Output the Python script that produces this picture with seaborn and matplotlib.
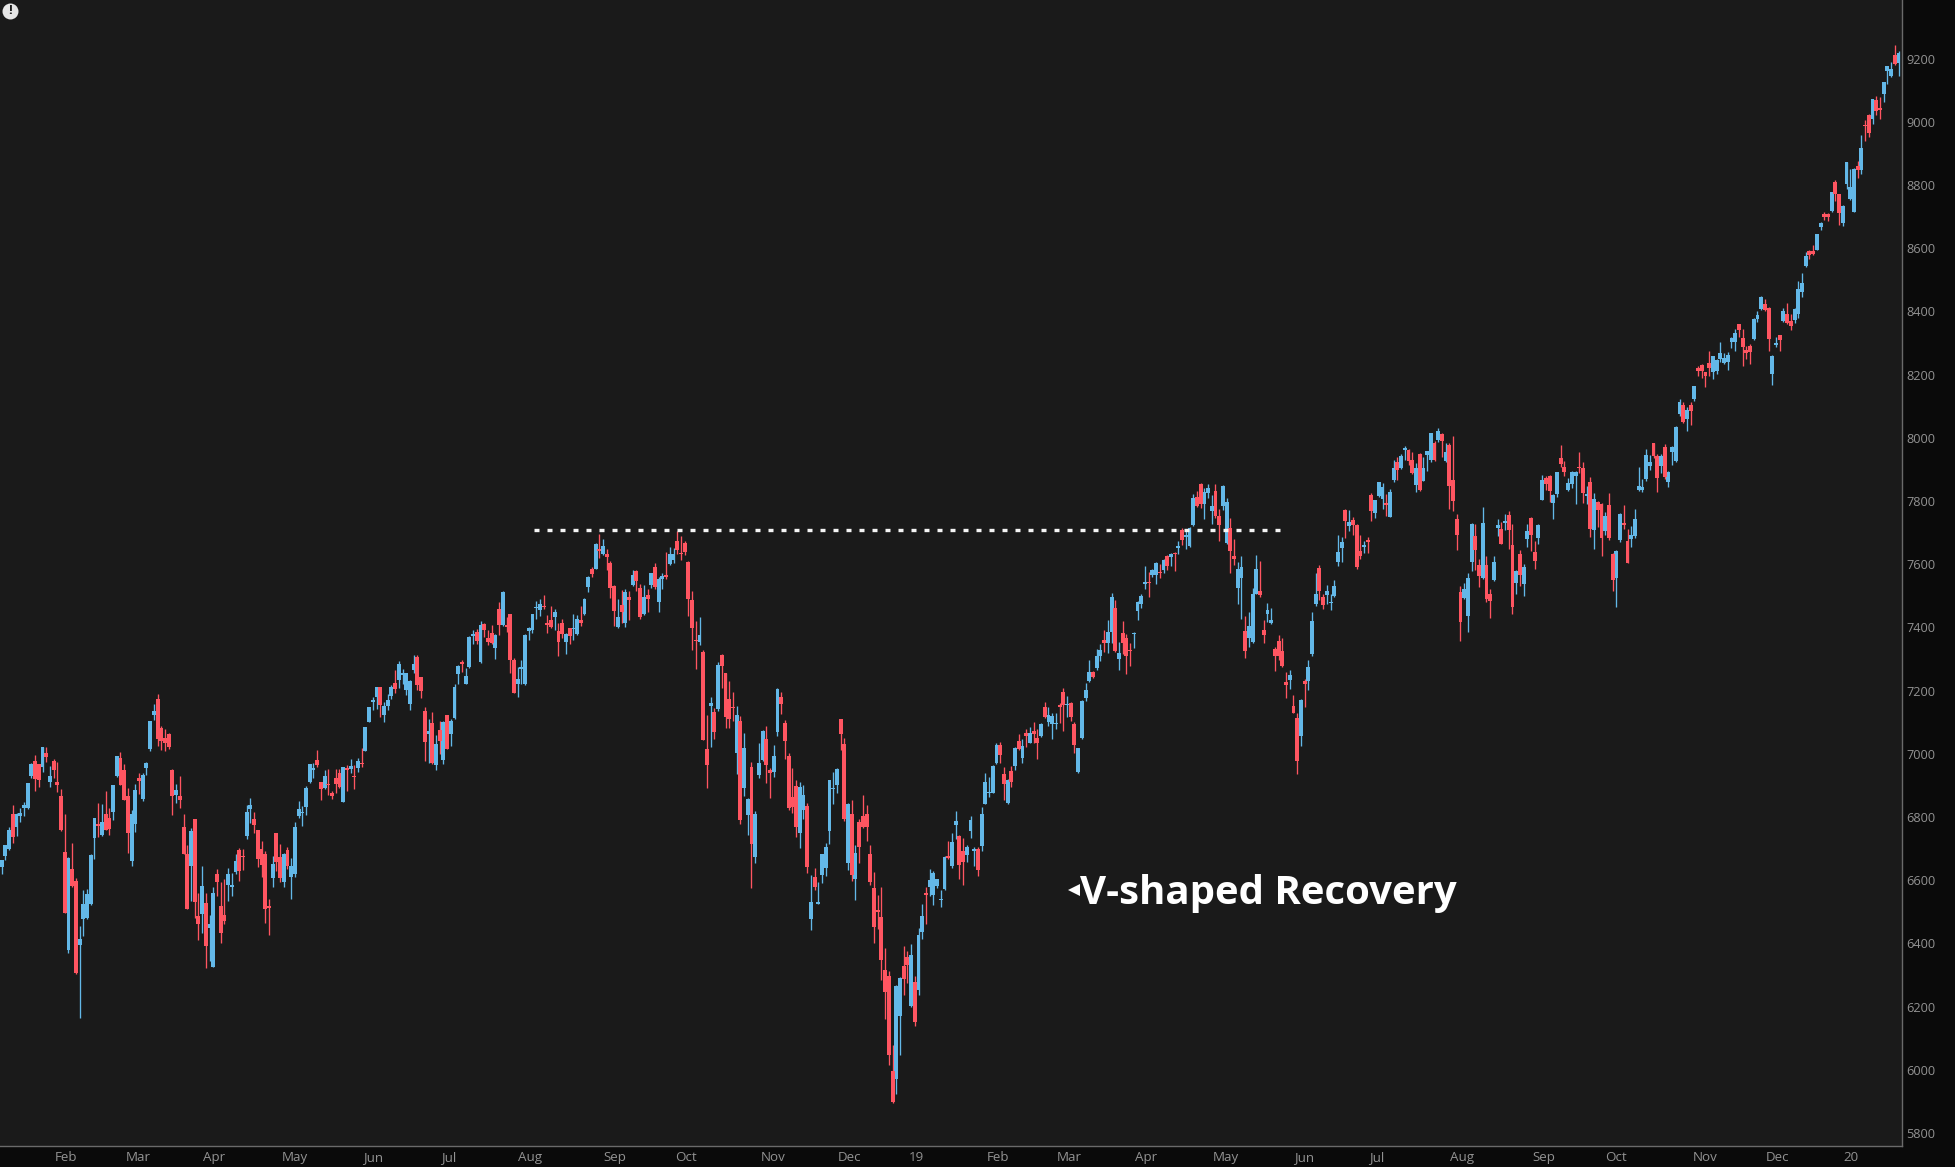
import matplotlib
matplotlib.use("Agg")
import matplotlib.pyplot as plt
import seaborn as sns
import pandas as pd
import numpy as np

# (open, high, low, close)
bars_a = [(6642,6665,6621,6665),(6676,6712,6663,6710),(6698,6767,6695,6760),(6809,6837,6718,6737),(6769,6813,6740,6811),
(6803,6827,6785,6814),(6829,6846,6804,6838),(6828,6909,6824,6909),(6929,6971,6925,6967),(6976,6995,6883,6921),
(6967,6969,6895,6918),(6959,7023,6943,7023),(7002,7023,6975,6989),(6910,6961,6895,6931),(6976,6985,6922,6948),
(6912,6975,6880,6902),(6868,6890,6755,6758),(6689,6811,6495,6497),(6378,6675,6370,6669),(6635,6719,6580,6581),
(6597,6608,6303,6307),(6394,6455,6164,6415),(6478,6568,6424,6526),(6482,6573,6478,6555),(6524,6684,6521,6679),
(6734,6798,6667,6796),(6779,6843,6737,6772),(6742,6841,6739,6784),(6811,6882,6758,6758),(6796,6827,6742,6761),
(6815,6901,6790,6901),(6931,6992,6927,6992),(6986,7005,6901,6901),(6948,6967,6853,6853),(6866,6893,6687,6750),
(6660,6822,6644,6811),(6778,6904,6753,6885),(6923,6938,6874,6914),(6856,6938,6851,6932),(6955,6974,6932,6972)]
bars_b = [(7015,7103,7009,7103),(7122,7159,7106,7135),(7175,7189,7024,7047),(7081,7087,7012,7041),(7051,7077,7009,7033),
(7062,7066,7014,7022),(6948,6951,6806,6867),(6870,6904,6843,6887),(6866,6931,6828,6854),(6768,6811,6682,6682),
(6684,6711,6509,6509),(6644,6766,6535,6755),(6793,6795,6481,6531),(6488,6561,6412,6461),(6492,6644,6433,6583),
(6529,6561,6323,6392),(6448,6489,6345,6461),(6326,6579,6326,6561),(6621,6635,6549,6594),(6517,6593,6402,6432),
(6491,6605,6463,6470),(6584,6640,6535,6619),(6578,6623,6549,6586),(6625,6684,6619,6660),(6697,6703,6598,6629),
(6678,6700,6632,6673),(6739,6837,6731,6817),(6826,6859,6780,6837),(6795,6817,6750,6774),(6758,6760,6642,6667),
(6700,6723,6611,6648),(6682,6692,6465,6509),(6517,6542,6426,6513),(6606,6676,6579,6651),(6751,6751,6628,6657),
(6672,6714,6593,6606),(6595,6687,6579,6684),(6697,6706,6637,6644),(6611,6669,6541,6646),(6619,6785,6611,6770)]
bars_c = [(6803,6850,6798,6824),(6813,6834,6772,6817),(6832,6898,6806,6893),(6910,6969,6907,6967),(6948,6972,6923,6954),
(6979,7012,6957,6964),(6912,6912,6853,6889),(6893,6948,6890,6931),(6906,6953,6869,6902),(6877,6881,6857,6866),
(6922,6951,6876,6904),(6938,6953,6893,6895),(6848,6959,6847,6957),(6954,6964,6883,6950),(6952,6985,6938,6963),
(6931,6964,6889,6927),(6956,6988,6943,6978),(6972,7017,6957,6968),(7009,7086,7009,7086),(7101,7149,7100,7147),
(7163,7180,7138,7169),(7180,7213,7142,7213),(7213,7213,7117,7154),(7123,7164,7101,7152),(7151,7188,7140,7170),
(7182,7217,7172,7212),(7223,7265,7193,7206),(7233,7293,7207,7284),(7248,7270,7220,7256),(7201,7256,7187,7256),
(7157,7233,7138,7230),(7265,7312,7256,7284),(7305,7312,7203,7217),(7242,7242,7177,7199),(7135,7147,6978,7037),
(7063,7110,6972,7071),(7099,7132,6969,6972),(6965,7058,6948,7032),(7075,7103,7001,7041),(6980,7103,6967,7101),
(7124,7124,7014,7015),(7062,7109,7024,7103),(7112,7220,7109,7210),(7252,7282,7220,7277),(7290,7298,7258,7284),
(7220,7273,7220,7246)]
bars_d = [(7276,7373,7272,7371),(7372,7392,7349,7379),(7385,7394,7349,7357),(7289,7420,7287,7408),(7410,7415,7371,7392),
(7365,7392,7344,7354),(7381,7408,7347,7352),(7335,7378,7300,7376),(7458,7479,7376,7408),(7408,7515,7404,7512),
(7408,7434,7384,7402),(7444,7444,7257,7297),(7297,7302,7191,7193),(7221,7275,7179,7237),(7269,7297,7222,7274),
(7222,7379,7219,7375),(7390,7400,7359,7398),(7393,7442,7383,7442),(7460,7483,7426,7465),(7456,7489,7437,7473),
(7469,7503,7459,7465),(7414,7440,7383,7409),(7424,7469,7399,7402),(7432,7459,7393,7450),(7389,7413,7311,7355),
(7413,7426,7366,7379),(7355,7382,7315,7379),(7397,7399,7348,7372),(7395,7444,7359,7399),(7379,7440,7375,7426),
(7422,7467,7405,7414),(7442,7494,7440,7489),(7527,7563,7512,7561),(7584,7590,7561,7569),(7585,7668,7584,7664),
(7647,7695,7620,7642),(7633,7679,7628,7658),(7632,7647,7581,7624),(7605,7611,7494,7524),(7531,7534,7405,7452),
(7402,7491,7399,7432),(7471,7518,7413,7449),(7413,7520,7402,7511),(7496,7514,7424,7488),(7534,7581,7530,7565),
(7578,7581,7516,7547),(7524,7538,7426,7434),(7442,7534,7440,7496),(7503,7520,7450,7491),(7534,7572,7524,7572),
(7590,7605,7523,7527),(7479,7558,7450,7553),(7554,7572,7520,7563),(7566,7639,7554,7561),(7601,7655,7597,7631),
(7612,7652,7604,7632),(7675,7706,7631,7644),(7633,7689,7612,7631),(7666,7672,7628,7639),(7608,7611,7437,7490)]
bars_e = [(7487,7514,7329,7399),(7360,7420,7270,7356),(7354,7433,7343,7375),(7321,7329,7045,7045),(7015,7124,6893,6966),
(7152,7181,7023,7160),(7133,7146,7047,7070),(7141,7292,7134,7281),(7313,7316,7207,7278),(7255,7255,7083,7117),
(7173,7231,7083,7109),(7146,7195,7103,7144),(7002,7150,6935,7124),(7103,7119,6778,6791),(6892,7066,6868,7019),
(6805,6860,6743,6857),(6958,6975,6576,6716),(6675,6819,6653,6811),(6932,7033,6924,6971),(6980,7075,6976,7072),
(7047,7087,6908,6966),(6950,6955,6861,6939),(6942,7028,6928,6993),(7068,7208,7056,7206),(7180,7195,7126,7158),
(7098,7106,6985,7041),(6993,7002,6821,6829),(6864,6955,6814,6832),(6899,6918,6737,6770),(6751,6911,6702,6895),
(6823,6902,6794,6871),(6834,6845,6623,6643),(6476,6616,6444,6530),(6610,6640,6568,6577),(6526,6595,6525,6530),
(6616,6682,6592,6682),(6639,6719,6612,6704),(6756,6918,6716,6918),(6889,6942,6840,6893),(6902,6955,6875,6953),
(7109,7109,7013,7063),(7031,7050,6787,6794),(6653,6845,6632,6841),(6809,6854,6596,6615),(6605,6713,6536,6686),
(6784,6794,6653,6705),(6803,6871,6764,6767),(6809,6838,6724,6770),(6682,6713,6585,6595),(6576,6626,6400,6451),
(6505,6552,6447,6498),(6483,6579,6285,6346),(6316,6386,6161,6245),(6296,6314,6016,6048),(5997,6078,5895,5899)]
bars_f = [(5970,6269,5922,6265),(6170,6293,6046,6291),(6330,6393,6236,6287),(6357,6377,6276,6332),(6202,6397,6199,6363),
(6279,6296,6140,6151),(6252,6449,6236,6427),(6435,6525,6414,6488),(6560,6579,6460,6554),(6579,6636,6549,6601),
(6552,6630,6521,6622),(6581,6605,6576,6603),(6538,6569,6514,6542),(6572,6677,6568,6674),(6678,6724,6666,6669),
(6646,6749,6639,6720),(6774,6819,6729,6786),(6740,6743,6605,6649),(6692,6733,6585,6659),(6679,6713,6659,6705),
(6756,6803,6733,6791),(6694,6706,6646,6700),(6698,6705,6614,6632),(6709,6831,6692,6811),(6842,6939,6840,6910),
(6875,6926,6864,6880),(6877,6966,6875,6963),(6971,7035,6969,7028),(7027,7038,6971,6996),(6936,6957,6853,6904),
(6843,6919,6840,6917),(6945,6961,6896,6910),(6962,7022,6950,7018),(7040,7064,7012,7014),(6987,7048,6971,7024),
(7067,7077,7022,7056),(7035,7085,7033,7067),(7071,7100,7033,7063),(7049,7080,6983,7035),(7056,7098,7052,7094),
(7147,7163,7114,7115),(7100,7147,7088,7123),(7094,7128,7046,7119),(7095,7128,7077,7099),(7154,7161,7098,7149),
(7195,7207,7073,7153),(7156,7182,7117,7159),(7161,7164,7103,7115),(7094,7101,7003,7028),(6942,7020,6940,7018),
(7051,7170,7048,7167),(7176,7223,7168,7203),(7231,7296,7228,7258),(7260,7263,7240,7242),(7273,7333,7265,7308)]
bars_g = [(7311,7349,7294,7328),(7360,7393,7321,7351),(7351,7425,7320,7385),(7385,7510,7351,7496),(7461,7486,7321,7324),
(7300,7354,7265,7318),(7381,7420,7315,7350),(7365,7379,7253,7309),(7328,7351,7277,7324),(7378,7385,7335,7382),
(7453,7483,7423,7480),(7474,7507,7460,7501),(7537,7594,7523,7545),(7545,7574,7497,7541),(7565,7584,7558,7581),
(7567,7606,7537,7603),(7574,7602,7556,7571),(7581,7616,7573,7613),(7625,7629,7581,7595),(7623,7634,7594,7632),
(7635,7638,7579,7631),(7651,7673,7632,7657),(7707,7716,7660,7678),(7687,7713,7649,7692),(7657,7718,7655,7716),
(7723,7822,7720,7811),(7814,7832,7782,7784),(7853,7858,7777,7792),(7790,7840,7744,7830),(7825,7853,7811,7840),
(7768,7819,7727,7784),(7831,7853,7745,7752),(7754,7776,7673,7724),(7784,7851,7771,7849),(7666,7808,7664,7796),
(7716,7745,7573,7642),(7625,7681,7596,7617),(7525,7608,7474,7584),(7557,7626,7426,7591),(7388,7436,7303,7326),
(7366,7450,7339,7404),(7354,7526,7351,7505),(7507,7628,7505,7584),(7514,7610,7497,7502),(7393,7425,7351,7377),
(7442,7477,7417,7454),(7413,7460,7410,7422),(7333,7339,7263,7309),(7356,7376,7298,7309),(7324,7365,7275,7277),
(7227,7259,7176,7218),(7234,7265,7204,7248),(7150,7186,7128,7129),(7113,7128,6936,6978),(7056,7172,7024,7170)]
bars_h = [(7232,7238,7149,7221),(7230,7296,7201,7276),(7315,7448,7310,7419),(7473,7573,7467,7505),(7587,7596,7488,7515),
(7495,7507,7458,7470),(7502,7534,7474,7514),(7478,7507,7455,7482),(7499,7550,7497,7531),(7607,7691,7594,7638),
(7651,7685,7608,7670),(7773,7775,7682,7737),(7720,7773,7706,7733),(7740,7748,7692,7723),(7724,7727,7584,7592),
(7642,7692,7615,7627),(7654,7674,7636,7660),(7676,7686,7636,7671),(7818,7824,7736,7769),(7763,7803,7745,7803),
(7817,7861,7813,7859),(7807,7856,7774,7843),(7793,7822,7752,7788),(7750,7837,7748,7830),(7868,7929,7860,7906),
(7923,7940,7868,7898),(7906,7950,7902,7944),(7961,7974,7931,7969),(7961,7965,7914,7927),(7931,7955,7887,7889),
(7850,7919,7829,7906),(7948,7953,7832,7834),(7864,7940,7862,7906),(7946,7959,7896,7957),(7929,8016,7925,8014),
(7983,7990,7927,7929),(7993,8031,7987,8021),(8011,8014,7940,7991),(7927,7982,7924,7955),(7976,7982,7776,7849),
(7868,8005,7769,7801),(7742,7758,7645,7693),(7512,7531,7358,7418),(7494,7542,7491,7523),(7437,7571,7386,7555),
(7608,7729,7579,7727),(7689,7727,7583,7645),(7599,7618,7528,7562),(7555,7780,7552,7729),(7597,7626,7481,7489),
(7505,7523,7430,7484),(7550,7626,7547,7607)]
bars_i = [(7716,7743,7690,7724),(7712,7733,7664,7664),(7731,7759,7708,7737),(7756,7769,7649,7709),(7661,7727,7444,7466),
(7541,7582,7506,7580),(7633,7645,7531,7566),(7538,7600,7500,7591),(7680,7727,7655,7705),(7746,7750,7642,7693),
(7639,7674,7585,7610),(7683,7727,7664,7724),(7803,7883,7802,7867),(7873,7879,7835,7854),(7879,7883,7797,7832),
(7794,7822,7743,7819),(7822,7892,7813,7892),(7936,7978,7908,7917),(7908,7927,7879,7892),(7835,7873,7832,7856),
(7853,7895,7841,7892),(7879,7895,7791,7892),(7908,7955,7890,7903),(7905,7924,7795,7826),(7816,7848,7791,7822),
(7860,7876,7686,7712),(7709,7826,7648,7807),(7797,7800,7718,7772),(7791,7794,7626,7683),(7705,7765,7693,7753),
(7788,7826,7677,7683),(7633,7636,7515,7550),(7557,7645,7466,7642),(7677,7762,7670,7759),(7731,7788,7712,7724),
(7674,7712,7604,7604),(7680,7721,7655,7693),(7690,7775,7683,7743),(7835,7908,7832,7848),(7835,7869,7829,7845),
(7870,7965,7864,7946)]
bars_j = [(7911,7945,7898,7923),(7982,7984,7936,7944),(7943,7948,7830,7872),(7911,7948,7890,7944),(7971,7979,7870,7876),
(7860,7895,7845,7892),(7956,7973,7915,7971),(7928,8037,7925,8034),(8074,8122,8070,8112),(8103,8112,8047,8049),
(8058,8098,8021,8088),(8103,8113,8042,8086),(8124,8165,8115,8163),(8220,8226,8195,8212),(8230,8232,8190,8210),
(8207,8209,8160,8196),(8238,8275,8195,8221),(8208,8260,8186,8258),(8210,8248,8202,8246),(8249,8303,8240,8268),
(8238,8268,8234,8252),(8240,8270,8214,8261),(8304,8319,8285,8317),(8304,8345,8275,8331),(8359,8360,8320,8340),
(8317,8344,8228,8286),(8277,8290,8250,8267),(8289,8297,8232,8272),(8312,8378,8310,8376),(8376,8400,8365,8388),
(8408,8449,8405,8447),(8425,8438,8400,8404),(8412,8414,8276,8312),(8202,8261,8168,8259),(8294,8320,8287,8299),
(8324,8326,8275,8311),(8369,8412,8365,8400),(8391,8428,8360,8364),(8369,8391,8342,8355),(8374,8410,8364,8407),
(8393,8495,8380,8470),(8462,8520,8444,8489),(8544,8587,8541,8575),(8591,8595,8566,8577),(8591,8609,8580,8583),
(8595,8644,8594,8644),(8666,8683,8658,8681),(8707,8715,8690,8698),(8707,8712,8687,8700),(8718,8779,8716,8779),
(8808,8815,8750,8772),(8770,8772,8673,8712),(8681,8738,8670,8735),(8803,8874,8788,8874),(8756,8852,8754,8795),
(8715,8854,8714,8850),(8859,8875,8822,8848),(8848,8957,8835,8916),(8991,9007,8938,8987),(9023,9026,8952,8966),
(9009,9072,8994,9072),(9070,9083,9022,9034),(9043,9080,9008,9037),(9088,9127,9064,9127),(9160,9178,9120,9175),
(9144,9190,9141,9168),(9212,9244,9180,9184),(9185,9223,9144,9219)]

month_labels = ["Feb","Mar","Apr","May","Jun","Jul","Aug","Sep","Oct","Nov","Dec","19",
                "Feb","Mar","Apr","May","Jun","Jul","Aug","Sep","Oct","Nov","Dec","20"]
month_bars = [17.4,36.8,57.3,79.1,100.0,120.4,142.3,165.2,184.3,207.8,228.3,246.4,
              268.3,287.7,308.2,329.9,350.9,370.3,393.5,415.4,434.9,458.9,478.3,498.3]
price_ticks = [5800,6000,6200,6400,6600,6800,7000,7200,7400,7600,7800,8000,8200,8400,8600,8800,9000,9200]
resistance_level = 7708
resistance_from, resistance_to = 143.4, 345.8
note_text = "V-shaped Recovery"
note_bar, note_price = 290.6, 6558

sns.set_theme(style="dark", rc={"axes.facecolor":"#1a1a1a","figure.facecolor":"#0a0a0a"})
plt.rcParams["font.family"] = ["Open Sans","DejaVu Sans"]

rows = bars_a+bars_b+bars_c+bars_d+bars_e+bars_f+bars_g+bars_h+bars_i+bars_j
df = pd.DataFrame(rows, columns=["open","high","low","close"])
df["bar"] = np.arange(len(df))
df["bottom"] = df[["open","close"]].min(axis=1)
df["body"] = (df["close"]-df["open"]).abs().clip(lower=3)
df["up"] = df["close"] >= df["open"]

BLUE, RED = "#63b8e8", "#ff5561"
fig = plt.figure(figsize=(19.55,11.67), dpi=100)
ax = fig.add_axes([0, 21/1167, 1902/1955, 1146/1167])

for flag, col in [(True,BLUE),(False,RED)]:
    d = df[df["up"]==flag]
    ax.vlines(d["bar"], d["low"], d["high"], color=col, lw=0.95, zorder=2)
    sns.barplot(data=d, x="bar", y="body", bottom=d["bottom"].values, native_scale=True,
                color=col, saturation=1, width=1.05, errorbar=None, linewidth=0, ax=ax, zorder=3)

ax.set_xlim(-0.45, 511.94)
ax.set_ylim(5759, 9385.4)
ax.set_xlabel(""); ax.set_ylabel("")
ax.yaxis.tick_right()
ax.set_yticks(price_ticks, [str(t) for t in price_ticks])
ax.set_xticks(month_bars, month_labels)
ax.tick_params(axis="both", length=0, labelcolor="#929292")
ax.tick_params(axis="y", pad=3.0, labelsize=9.2)
ax.tick_params(axis="x", pad=3.5, labelsize=9.6)
ax.grid(False)
for s in ["top","left"]:
    ax.spines[s].set_visible(False)
for s in ["right","bottom"]:
    ax.spines[s].set_color("#6a6a6a"); ax.spines[s].set_linewidth(1.0); ax.spines[s].set_visible(True)

ax.plot([resistance_from,resistance_to],[resistance_level,resistance_level], color="#f4f4f4", lw=2.4,
        ls=(0,(1.5,2.4)), dash_capstyle="butt", zorder=5)

ax.text(note_bar, note_price, note_text, color="white", fontsize=28.9, fontweight="bold",
        va="center", ha="left", zorder=6)
ax.plot([288.9],[6570], marker="<", color="white", ms=9, mew=0, zorder=6)

ax.plot([10/1902],[1-11/1146], marker="o", ms=11.5, color="#e6e6e6", mew=0, transform=ax.transAxes, zorder=7, clip_on=False)
ax.text(10/1902, 1-11/1146, "!", color="#1a1a1a", fontsize=9.5, fontweight="bold", ha="center", va="center",
        transform=ax.transAxes, zorder=8)

fig.savefig("out.png", dpi=100, facecolor=fig.get_facecolor())
